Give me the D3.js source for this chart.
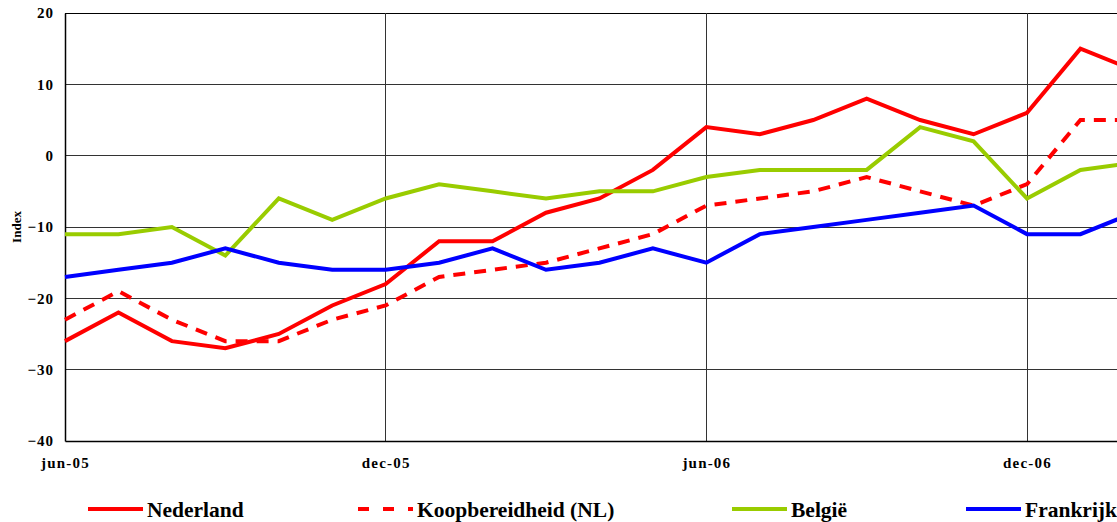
<!DOCTYPE html>
<html><head><meta charset="utf-8">
<script src="https://cdn.jsdelivr.net/npm/d3@7/dist/d3.min.js"></script>
<style>html,body{margin:0;padding:0;background:#fff;overflow:hidden}</style>
</head><body>
<svg id="c" width="1117" height="522"></svg>
<script>
const months = ["jun-05","jul-05","aug-05","sep-05","okt-05","nov-05","dec-05","jan-06","feb-06","mrt-06","apr-06","mei-06","jun-06","jul-06","aug-06","sep-06","okt-06","nov-06","dec-06","jan-07","feb-07"];
const tickLabels = ["jun-05","dec-05","jun-06","dec-06"];
const yTicks = [-40,-30,-20,-10,0,10,20];
const nederland = [-26,-22,-26,-27,-25,-21,-18,-12,-12,-8,-6,-2,4,3,5,8,5,3,6,15,12];
const koop = [-23,-19,-23,-26,-26,-23,-21,-17,-16,-15,-13,-11,-7,-6,-5,-3,-5,-7,-4,5,5];
const belgie = [-11,-11,-10,-14,-6,-9,-6,-4,-5,-6,-5,-5,-3,-2,-2,-2,4,2,-6,-2,-1];
const frankrijk = [-17,-16,-15,-13,-15,-16,-16,-15,-13,-16,-15,-13,-15,-11,-10,-9,-8,-7,-11,-11,-8];

const series = [
  {name:"Nederland", values:nederland, color:"#FF0000", dash:null},
  {name:"Koopbereidheid (NL)", values:koop, color:"#FF0000", dash:"12,9"},
  {name:"België", values:belgie, color:"#99CC00", dash:null},
  {name:"Frankrijk", values:frankrijk, color:"#0000FF", dash:null}
];

const svg = d3.select("#c");
const pLeft = 65, pTop = 13, pBottom = 441;
const step = (1027 - 65) / 18;
const x = d3.scalePoint().domain(months).range([pLeft, pLeft + step*(months.length-1)]);
const y = d3.scaleLinear().domain([-40,20]).range([pBottom, pTop]);
const font = "'Liberation Serif','Times New Roman',serif";

// horizontal grid
svg.append("g").selectAll("line").data(yTicks.filter(d=>d>-40)).join("line")
  .attr("x1", pLeft).attr("x2", 1117).attr("y1", d=>y(d)).attr("y2", d=>y(d))
  .attr("stroke", d=> d===20 ? "#000" : "#333").attr("stroke-width", 1).attr("shape-rendering","crispEdges");
// vertical grid
svg.append("g").selectAll("line").data(tickLabels.slice(1)).join("line")
  .attr("x1", d=>x(d)).attr("x2", d=>x(d)).attr("y1", pTop).attr("y2", pBottom)
  .attr("stroke", "#333").attr("stroke-width", 1).attr("shape-rendering","crispEdges");

// axes
const yAxis = d3.axisLeft(y).tickValues(yTicks).tickSize(0).tickPadding(11);
const gy = svg.append("g").attr("transform",`translate(${pLeft},0)`).call(yAxis);
gy.select(".domain").attr("stroke","#000").attr("stroke-width",1.5);
gy.selectAll("text").attr("font-family",font).attr("font-weight","bold").attr("font-size","15px").attr("fill","#000").attr("letter-spacing","1px");

const xAxis = d3.axisBottom(x).tickValues(tickLabels).tickSize(0).tickPadding(16);
const gx = svg.append("g").attr("transform",`translate(0,${pBottom})`).call(xAxis);
gx.select(".domain").attr("stroke","#000").attr("stroke-width",1.5);
gx.selectAll("text").attr("font-family",font).attr("font-weight","bold").attr("font-size","15px").attr("fill","#000").attr("letter-spacing","1.2px");

svg.append("text").attr("transform","translate(21,227) rotate(-90)").attr("text-anchor","middle")
  .attr("font-family",font).attr("font-weight","bold").attr("font-size","13px").text("Index");

// lines
const line = d3.line().x((d,i)=>x(months[i])).y(d=>y(d));
svg.append("g").selectAll("path").data(series).join("path")
  .attr("d", d=>line(d.values)).attr("fill","none").attr("stroke",d=>d.color)
  .attr("stroke-width",4).attr("stroke-dasharray",d=>d.dash).attr("stroke-linejoin","miter");

// legend
const legX = [88, 358, 732, 966];
const lg = svg.append("g").selectAll("g").data(series).join("g")
  .attr("transform",(d,i)=>`translate(${legX[i]},509)`);
lg.append("line").attr("x1",0).attr("x2",55).attr("y1",0).attr("y2",0)
  .attr("stroke",d=>d.color).attr("stroke-width",4).attr("stroke-dasharray",d=>d.dash?"11,14":null);
lg.append("text").attr("x",59).attr("y",8).attr("font-family",font).attr("font-weight","bold")
  .attr("font-size","21.5px").text(d=>d.name);
</script>
</body></html>
